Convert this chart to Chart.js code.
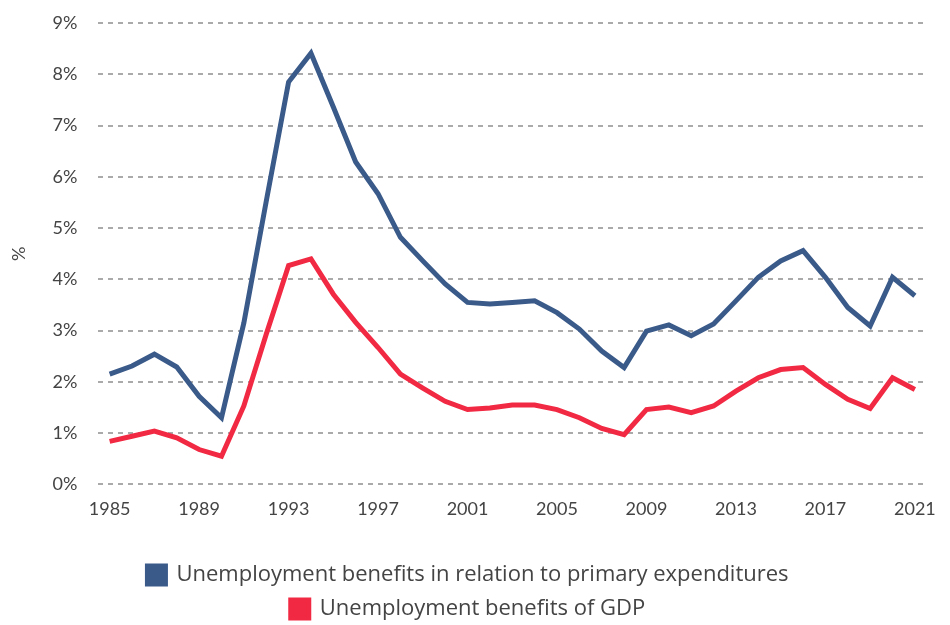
<!DOCTYPE html>
<html>
<head>
<meta charset="utf-8">
<script src="https://cdn.jsdelivr.net/npm/chart.js@4/dist/chart.umd.min.js"></script>
<style>
  html, body { margin: 0; padding: 0; background: #fff; }
  #wrap { width: 950px; height: 625px; position: relative; }
</style>
</head>
<body>
<div id="wrap"><canvas id="chart"></canvas></div>
<script>
// Unemployment benefits, 1985-2021 (%)
const years = [];
for (let y = 1985; y <= 2021; y++) years.push(String(y));

const primaryExpenditures = [
  2.15, 2.31, 2.54, 2.29, 1.72, 1.30, 3.15, 5.52, 7.85, 8.41,
  7.36, 6.29, 5.67, 4.82, 4.36, 3.91, 3.55, 3.52, 3.55, 3.58,
  3.35, 3.03, 2.60, 2.28, 2.99, 3.11, 2.90, 3.13, 3.58, 4.04,
  4.36, 4.56, 4.04, 3.45, 3.09, 4.04, 3.68
];
const ofGdp = [
  0.84, 0.94, 1.04, 0.91, 0.68, 0.55, 1.53, 2.93, 4.27, 4.40,
  3.71, 3.16, 2.67, 2.15, 1.88, 1.62, 1.46, 1.49, 1.55, 1.55,
  1.46, 1.30, 1.09, 0.97, 1.46, 1.51, 1.40, 1.53, 1.82, 2.08,
  2.24, 2.28, 1.95, 1.66, 1.48, 2.08, 1.85
];
const seriesNames = [
  "Unemployment benefits in relation to primary expenditures",
  "Unemployment benefits of GDP"
];
const BLUE = "#3a5a8a";
const RED = "#f22942";
const FONT = "Lato, 'Open Sans', sans-serif";

// reserve extra room for the legend and draw it lower, away from the year labels
const LEGEND_EXTRA = 13;
const LEGEND_SHIFT = 18;
const legendGap = {
  id: "legendGap",
  beforeInit(chart) {
    const lg = chart.legend;
    const fit = lg.fit;
    const draw = lg.draw;
    lg.fit = function () {
      fit.call(this);
      this.height += LEGEND_EXTRA;
    };
    lg.draw = function () {
      const ctx = this.ctx;
      ctx.save();
      ctx.translate(0, LEGEND_SHIFT);
      draw.call(this);
      ctx.restore();
    };
  }
};

new Chart(document.getElementById("chart").getContext("2d"), {
  type: "line",
  data: {
    labels: years,
    datasets: [
      { label: seriesNames[0], data: primaryExpenditures, borderColor: BLUE, backgroundColor: BLUE,
        borderWidth: 5, pointRadius: 0, tension: 0, borderJoinStyle: "miter" },
      { label: seriesNames[1], data: ofGdp, borderColor: RED, backgroundColor: RED,
        borderWidth: 5, pointRadius: 0, tension: 0, borderJoinStyle: "miter" }
    ]
  },
  options: {
    responsive: true,
    maintainAspectRatio: false,
    animation: false,
    layout: { padding: { top: 23, right: 18, left: 4, bottom: 0 } },
    plugins: {
      tooltip: { enabled: false },
      legend: {
        position: "bottom",
        labels: {
          font: { family: "'Open Sans', sans-serif", size: 22 },
          color: "#444",
          boxWidth: 18,
          boxHeight: 18,
          padding: 12
        }
      }
    },
    scales: {
      x: {
        offset: true,
        grid: { display: false, drawTicks: false },
        border: { display: false },
        ticks: {
          autoSkip: false,
          maxRotation: 0,
          padding: 14,
          color: "#444",
          font: { family: FONT, size: 18 },
          callback: (v, i) => ((i % 4) === 0 ? years[i] : "")
        }
      },
      y: {
        min: 0,
        max: 9,
        // tick padding is only meant as horizontal gap, not as room above the 9% line
        afterFit: scale => { scale.paddingTop = 0; },
        grid: { color: "#aaaaaa", lineWidth: 2, drawTicks: false },
        border: { display: false, dash: [5, 5] },
        ticks: {
          stepSize: 1,
          padding: 21,
          color: "#444",
          font: { family: FONT, size: 18 },
          callback: v => v + "%"
        },
        title: {
          display: true,
          text: "%",
          color: "#444",
          font: { family: FONT, size: 18 },
          padding: { bottom: 2 }
        }
      }
    }
  },
  plugins: [legendGap]
});
</script>
</body>
</html>
